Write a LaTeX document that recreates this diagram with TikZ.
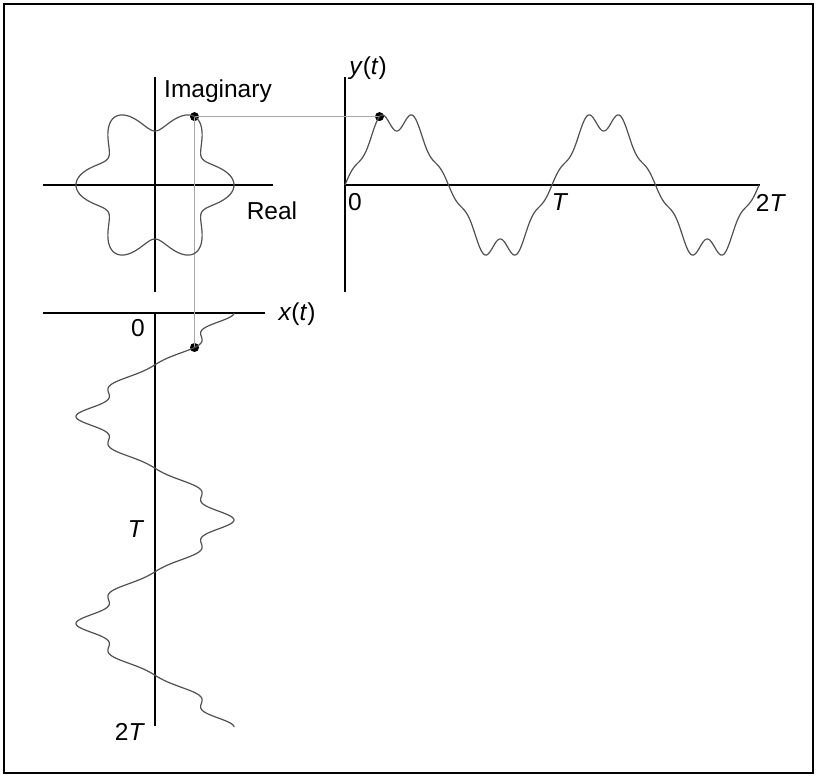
\documentclass[tikz,border=0pt]{standalone}
\usepackage{fontspec}
\setmainfont{Liberation Sans}
\usetikzlibrary{positioning}
\definecolor{curvegray}{HTML}{505050}
\definecolor{guidegray}{HTML}{A8A8A8}

\newcommand{\ampl}{66.5}
\newcommand{\harm}{0.188}
\newcommand{\per}{207}

\begin{document}
\begin{tikzpicture}[x=1pt, y=-1pt,
    every node/.style={font=\fontsize{24.5}{28}\selectfont, inner sep=0pt},
    axis/.style={line width=1.4pt, black},
    wave/.style={line width=1.2pt, curvegray, smooth},
    guide/.style={line width=1.4pt, guidegray},
    dot/.style={circle, fill=black, minimum size=9pt, inner sep=0pt}
]
\useasboundingbox (0,0) rectangle (817,776);
\draw[line width=1.5pt] (4,4) rectangle (813,773);

% complex plane
\draw[axis] (43,185) -- (273,185);
\draw[axis] (155,77) -- (155,292);
\node[anchor=west] (imag) at (164,91) {Imaginary};
\node (real) at (272,211) {Real};

% y(t) plot
\draw[axis] (345,77) -- (345,292);
\draw[axis] (345,185) -- (760,185);
\node (ylab) at (368,68) {\textit{y}(\textit{t})};
\node (y0) at (355,202) {0};
\node (yT) at (560,202) {\textit{T}};
\node (y2T) at (771,203) {2\textit{T}};

% x(t) plot
\draw[axis] (43,313) -- (265,313);
\draw[axis] (155,313) -- (155,726);
\node (xlab) at (297,314) {\textit{x}(\textit{t})};
\node (x0) at (138,328) {0};
\node (xT) at (136,529) {\textit{T}};
\node (x2T) at (130,732) {2\textit{T}};

% sample points at 60 degrees
\node[dot] (zdot) at ({155+\ampl*(1+\harm)*cos(60)}, {185-\ampl*(1+\harm)*sin(60)}) {};
\node[dot] (ydot) at ({345+\per/6}, {185-\ampl*(1+\harm)*sin(60)}) {};
\node[dot] (xdot) at ({155+\ampl*(1+\harm)*cos(60)}, {313+\per/6}) {};
\draw[guide] (zdot.center) -- (ydot.center);
\draw[guide] (zdot.center) -- (xdot.center);

% curves, r = 1 + c cos(6 t)
\draw[wave] plot[domain=0:360, samples=361, variable=\t]
    ({155+\ampl*cos(\t)*(1+\harm*cos(6*\t))}, {185-\ampl*sin(\t)*(1+\harm*cos(6*\t))});
\draw[wave] plot[domain=0:720, samples=481, variable=\t]
    ({345+\t/360*\per}, {185-\ampl*sin(\t)*(1+\harm*cos(6*\t))});
\draw[wave] plot[domain=0:720, samples=481, variable=\t]
    ({155+\ampl*cos(\t)*(1+\harm*cos(6*\t))}, {313+\t/360*\per});

\end{tikzpicture}
\end{document}
